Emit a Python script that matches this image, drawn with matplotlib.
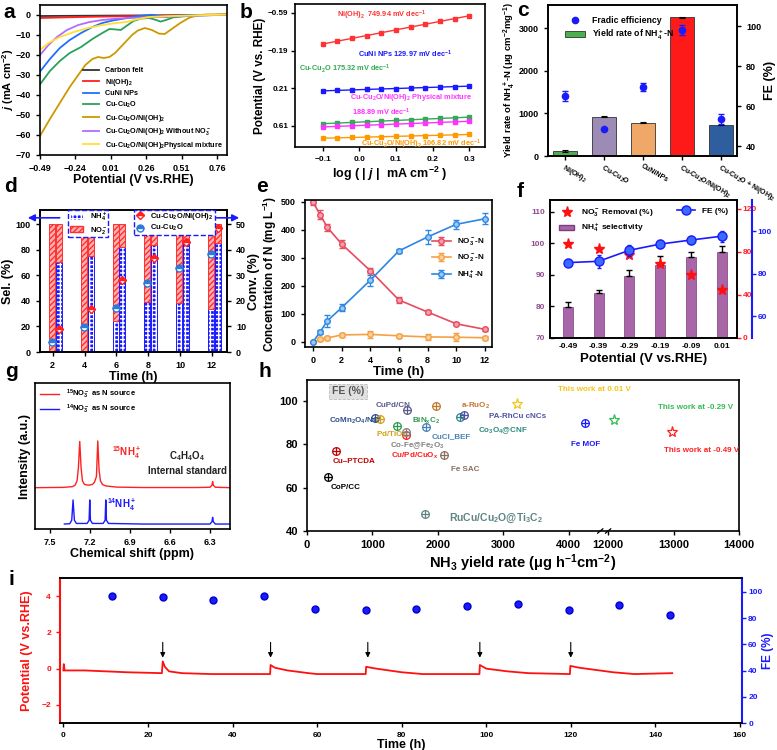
import numpy as np
import matplotlib
matplotlib.use("Agg")
import matplotlib.pyplot as plt
from matplotlib.patches import Patch
from matplotlib.lines import Line2D

plt.rcParams['font.family'] = ['Liberation Sans', 'DejaVu Sans']
plt.rcParams['font.weight'] = 'bold'
plt.rcParams['axes.labelweight'] = 'bold'
plt.rcParams['mathtext.fontset'] = 'custom'
plt.rcParams['mathtext.rm'] = 'Liberation Sans:bold'
plt.rcParams['mathtext.it'] = 'Liberation Sans:bold:italic'
plt.rcParams['mathtext.bf'] = 'Liberation Sans:bold'
plt.rcParams['mathtext.default'] = 'rm'
plt.rcParams['axes.linewidth'] = 1.2
plt.rcParams['xtick.major.width'] = 1.0
plt.rcParams['ytick.major.width'] = 1.0
plt.rcParams['xtick.major.size'] = 3
plt.rcParams['ytick.major.size'] = 3

# ---- a : LSV ----
v_gold = [-0.49, -0.42, -0.35, -0.28, -0.22, -0.17, -0.12, -0.08, -0.04, 0.0, 0.04, 0.10, 0.16, 0.20, 0.25, 0.30, 0.35, 0.39, 0.44, 0.50, 0.56, 0.62, 0.68, 0.83]
j_gold = [-60.5, -52, -44, -36, -30, -25, -22, -21, -21.5, -21, -19, -14.5, -10, -7.8, -6.5, -7.5, -9.3, -9.5, -7, -4, -1.5, -0.2, 0.2, 0.3]
v_green = [-0.49, -0.42, -0.35, -0.28, -0.20, -0.12, -0.05, 0.0, 0.04, 0.08, 0.12, 0.17, 0.22, 0.28, 0.33, 0.36, 0.40, 0.45, 0.55, 0.83]
j_green = [-34.7, -28, -23, -19, -16, -12, -9, -7, -7.2, -7.5, -5.5, -3, -1.8, -1.5, -2.5, -3.3, -2.5, -1.2, -0.5, 0.2]
v_cuni = [-0.49, -0.42, -0.35, -0.28, -0.20, -0.12, -0.05, 0.02, 0.10, 0.20, 0.30, 0.35, 0.40, 0.45, 0.55, 0.83]
j_cuni = [-28.3, -22, -16.5, -12.5, -9, -6, -4, -2.8, -1.8, -0.6, 0.1, -0.5, -1, -0.4, 0, 0.2]
v_purple = [-0.49, -0.43, -0.37, -0.30, -0.22, -0.14, -0.05, 0.05, 0.15, 0.25, 0.35, 0.45, 0.60, 0.83]
j_purple = [-20, -15, -11, -7.5, -5, -3.5, -2.5, -1.8, -1.5, -1.2, -1, -0.7, -0.3, 0.1]
v_yellow = [-0.49, -0.43, -0.35, -0.25, -0.15, -0.05, 0.05, 0.12, 0.20, 0.28, 0.40, 0.55, 0.70, 0.83]
j_yellow = [-17.5, -14, -11, -8.5, -6.5, -5, -4, -3.5, -2, -1, -0.6, -0.3, 0, 0.2]
v_nioh = [-0.49, -0.20, 0.10, 0.40, 0.70, 0.83]
j_nioh = [-1.5, -1.0, -0.6, -0.3, 0.0, 0.2]
v_felt = [-0.49, 0.0, 0.5, 0.83]
j_felt = [-0.5, -0.3, -0.1, 0.1]

# ---- b : Tafel ----
logj = [-0.10, -0.06, -0.02, 0.02, 0.06, 0.10, 0.14, 0.18, 0.22, 0.26, 0.30]
taf_nioh = [-0.26, -0.29, -0.32, -0.35, -0.38, -0.41, -0.44, -0.47, -0.50, -0.53, -0.56]
taf_cuni = [0.237, 0.232, 0.227, 0.222, 0.217, 0.212, 0.207, 0.202, 0.197, 0.192, 0.187]
taf_cu = [0.586, 0.579, 0.572, 0.565, 0.558, 0.551, 0.544, 0.537, 0.530, 0.523, 0.516]
taf_mix = [0.620, 0.614, 0.608, 0.602, 0.596, 0.590, 0.584, 0.578, 0.572, 0.566, 0.560]
taf_comp = [0.740, 0.736, 0.732, 0.728, 0.724, 0.720, 0.716, 0.712, 0.708, 0.704, 0.700]

# ---- c : yield / FE ----
c_cats = ['Ni(OH)$_2$', 'Cu-Cu$_2$O', 'CuNiNPs', 'Cu-Cu$_2$O/Ni(OH)$_2$', 'Cu-Cu$_2$O + Ni(OH)$_2$']
c_yield = [115, 925, 785, 3265, 720]
c_yield_err = [15, 10, 12, 10, 0]
c_fe = [65, 48.5, 69.5, 98, 53.5]
c_fe_err = [2.5, 0, 1.8, 2.5, 2.5]

# ---- d : selectivity / conversion ----
d_time = [2, 4, 6, 8, 10, 12]
d_sel_cu = [0, 0, 24, 39, 38, 34]
d_sel_comp = [70, 75, 82, 84, 85, 85]
d_conv_cu = [3.9, 9.8, 17.2, 27, 32.8, 38.3]
d_conv_comp = [9, 16.8, 28, 36.7, 43, 48.5]

# ---- e : concentration ----
e_time = [0, 0.5, 1, 2, 4, 6, 8, 10, 12]
e_no3 = [500, 455, 410, 350, 255, 150, 107, 65, 45]
e_no3_err = [10, 15, 12, 15, 8, 10, 6, 6, 6]
e_no2 = [0, 10, 14, 25, 27, 22, 18, 17, 15]
e_no2_err = [0, 5, 6, 8, 12, 8, 12, 14, 8]
e_nh4 = [0, 35, 75, 122, 220, 325, 375, 420, 440]
e_nh4_err = [0, 8, 20, 12, 20, 8, 25, 15, 20]

# ---- f : potential dependence ----
f_pot = ['-0.49', '-0.39', '-0.29', '-0.19', '-0.09', '0.01']
f_sel = [79.8, 84.1, 89.6, 93.2, 95.5, 97.2]
f_sel_err = [1.6, 1.0, 1.8, 2.8, 1.8, 1.8]
f_removal = [87.8, 83.2, 76.9, 69.2, 58.9, 44.9]
f_fe = [85.2, 85.8, 91.0, 93.9, 95.8, 97.6]
f_fe_err = [1.5, 3.0, 2.5, 2.0, 1.8, 2.5]

# ---- g : NMR ----
red_ppm = [7.61, 7.40, 7.33, 7.31, 7.295, 7.285, 7.275, 7.265, 7.255, 7.24, 7.21, 7.18, 7.165, 7.15, 7.14, 7.13, 7.12, 7.105, 7.08, 7.0, 6.8, 6.40, 6.30, 6.285, 6.28, 6.275, 6.26, 6.15]
red_int = [0.283, 0.285, 0.29, 0.30, 0.33, 0.42, 0.60, 0.42, 0.33, 0.305, 0.30, 0.305, 0.32, 0.36, 0.603, 0.40, 0.33, 0.305, 0.295, 0.287, 0.284, 0.284, 0.286, 0.30, 0.325, 0.30, 0.286, 0.283]
blue_ppm = [7.39, 7.35, 7.335, 7.325, 7.315, 7.30, 7.22, 7.205, 7.20, 7.195, 7.18, 7.10, 7.085, 7.08, 7.075, 7.06, 6.8, 6.30, 6.285, 6.28, 6.275, 6.26, 6.15]
blue_int = [0.034, 0.036, 0.06, 0.199, 0.06, 0.038, 0.038, 0.06, 0.199, 0.06, 0.038, 0.038, 0.06, 0.199, 0.06, 0.038, 0.034, 0.034, 0.05, 0.08, 0.05, 0.034, 0.034]

# ---- h : comparison ----
h_names = ['CoP/CC', 'Cu–PTCDA', 'Cu/Pd/CuO$_x$', 'Fe SAC', 'RuCu/Cu$_2$O@Ti$_3$C$_2$', 'Co-Fe@Fe$_2$O$_3$',
           'CoMn$_2$O$_4$/NC', 'Pd/TiO$_2$', 'CuPd/CN', 'BiN$_x$C$_2$', 'CuCl_BEF', 'a-RuO$_2$',
           'Co$_3$O$_4$@CNF', 'PA-RhCu cNCs', 'Fe MOF']
h_yield = [315, 442, 1520, 2099, 1799, 1509, 1037, 1113, 1535, 1382, 1825, 1966, 2332, 2398, 4240]
h_fe = [64.8, 76.9, 84.2, 75.0, 48.0, 85.6, 92.3, 92.0, 96.1, 88.7, 88.1, 97.7, 92.7, 93.8, 90.0]
h_colors = ['black', '#c00000', '#ff1a1a', '#8b6f5e', '#5f8585', '#808080', '#2f4f8f', '#d4a017',
            '#5a5a8a', '#2e9a4e', '#4682b4', '#c07830', '#2a8a80', '#5050a8', '#1a1aff']
work_labels = ['This work at 0.01 V', 'This work at -0.29 V', 'This work at -0.49 V']
work_yield = [3212, 12095, 12974]
work_fe = [98.5, 91.5, 85.6]
work_colors = ['#f5c518', '#33bb55', '#ff2020']

# ---- i : stability ----
i_fe_time = [11.5, 23.5, 35.5, 47.5, 59.5, 71.5, 83.5, 95.5, 107.5, 119.5, 131.5, 143.5]
i_fe = [97, 96, 94, 97, 87, 86, 87, 89, 91, 86, 90, 82]
i_time = [0, 0.1, 0.3, 5, 10, 15, 23.3, 23.5, 24, 25, 28, 35, 48.9, 49, 50, 53, 58, 60, 71.5, 71.6, 74, 80, 85,
          98.4, 98.5, 100, 105, 110, 119.8, 119.9, 122, 130, 135, 144]
i_pot = [-0.1, 0.25, -0.1, -0.1, -0.15, -0.2, -0.25, 0.4, 0.1, -0.15, -0.25, -0.3, -0.3, 0.2, 0.05, -0.1, -0.25, -0.3,
         -0.3, 0.1, 0.0, -0.2, -0.3, -0.3, 0.2, 0.0, -0.15, -0.25, -0.3, 0.15, 0.05, -0.2, -0.3, -0.25]
i_arrows = [23.5, 49, 72, 98.5, 120]

W, H = 777, 750


def box(l, t, r, b):
    return [l / W, 1 - b / H, (r - l) / W, (b - t) / H]


fig = plt.figure(figsize=(7.77, 7.5), dpi=100)
tick_fs = 6.5
lab_fs = 9

for letter, px, py in [('a', 3, 18), ('b', 240, 18), ('c', 517, 16), ('d', 4, 192), ('e', 256, 192),
                       ('f', 517, 197), ('g', 5, 377), ('h', 259, 377), ('i', 8, 585)]:
    fig.text(px / W, 1 - py / H, letter, fontsize=15, fontweight='bold')

# ---------------- a ----------------
ax_a = fig.add_axes(box(40, 5, 227, 155))
ax_a.plot(v_felt, j_felt, color='#333333', lw=1.3, label='Carbon felt')
ax_a.plot(v_nioh, j_nioh, color='#ff2020', lw=1.3, label='Ni(OH)$_2$')
ax_a.plot(v_cuni, j_cuni, color='#1f6fff', lw=1.3, label='CuNi NPs')
ax_a.plot(v_green, j_green, color='#2ca05a', lw=1.3, label='Cu-Cu$_2$O')
ax_a.plot(v_gold, j_gold, color='#cc9900', lw=1.3, label='Cu-Cu$_2$O/Ni(OH)$_2$')
ax_a.plot(v_purple, j_purple, color='#b36bff', lw=1.3, label='Cu-Cu$_2$O/Ni(OH)$_2$ Without NO$_3^-$')
ax_a.plot(v_yellow, j_yellow, color='#ffe033', lw=1.3, label='Cu-Cu$_2$O/Ni(OH)$_2$Physical mixture')
ax_a.set_xlim(-0.49, 0.83)
ax_a.set_ylim(-70, 5)
ax_a.set_xticks([-0.49, -0.24, 0.01, 0.26, 0.51, 0.76])
ax_a.set_yticks(np.arange(-70, 1, 10))
ax_a.tick_params(labelsize=tick_fs)
ax_a.set_xlabel('Potential (V vs.RHE)', fontsize=lab_fs, labelpad=1)
ax_a.set_ylabel('$\\mathit{j}$ (mA cm$^{-2}$)', fontsize=lab_fs - 1, labelpad=0)
ax_a.legend(loc='lower right', fontsize=5.2, frameon=False, handlelength=2.2, labelspacing=0.35,
            borderaxespad=0.2)

# ---------------- b ----------------
ax_b = fig.add_axes(box(295, 4, 485, 147))
for vals, col in [(taf_nioh, '#ff3333'), (taf_cuni, '#1a1aff'), (taf_cu, '#33aa55'),
                  (taf_mix, '#ff33ff'), (taf_comp, '#ff9900')]:
    ax_b.plot(logj, vals, color=col, lw=1.0, marker='s', ms=2.2)
ax_b.set_xlim(-0.175, 0.343)
ax_b.set_ylim(0.833, -0.685)
ax_b.set_yticks([-0.59, -0.19, 0.21, 0.61])
ax_b.set_xticks([-0.1, 0.0, 0.1, 0.2, 0.3])
ax_b.tick_params(axis='x', labelsize=6)
ax_b.tick_params(axis='y', labelsize=5.8, pad=2)
ax_b.set_xlabel('log ( | $\\mathit{j}$ |  mA cm$^{-2}$ )', fontsize=lab_fs, labelpad=1)
ax_b.set_ylabel('Potential (V vs. RHE)', fontsize=lab_fs - 0.5, labelpad=1)
bfs = 5.3
ax_b.text(0.06, -0.56, 'Ni(OH)$_2$  749.94 mV dec$^{-1}$', color='#ff3333', fontsize=bfs, ha='center', va='center')
ax_b.text(0.125, -0.155, 'CuNi NPs 129.97 mV dec$^{-1}$', color='#1a1aff', fontsize=bfs, ha='center', va='center')
ax_b.text(-0.04, 0.0, 'Cu-Cu$_2$O 175.32 mV dec$^{-1}$', color='#33aa55', fontsize=bfs, ha='center', va='center')
ax_b.text(0.14, 0.31, 'Cu-Cu$_2$O/Ni(OH)$_2$ Physical mixture', color='#ff33ff', fontsize=bfs, ha='center', va='center')
ax_b.text(0.06, 0.46, '188.89 mV dec$^{-1}$', color='#ff33ff', fontsize=bfs, ha='center', va='center')
ax_b.text(0.17, 0.80, 'Cu-Cu$_2$O/Ni(OH)$_2$ 106.82 mV dec$^{-1}$', color='#ff9900', fontsize=bfs, ha='center', va='center')

# ---------------- c ----------------
ax_c = fig.add_axes(box(548, 5, 737, 156))
c_cols = ['#4caf50', '#9b8bb5', '#f0a868', '#ff1a1a', '#2e5e9e']
xc = np.arange(len(c_cats))
ax_c.bar(xc, c_yield, width=0.6, color=c_cols, edgecolor='#333333', lw=0.6,
         yerr=c_yield_err, capsize=2, error_kw=dict(lw=0.8, capthick=0.8))
ax_c.set_xlim(-0.44, 4.41)
ax_c.set_ylim(0, 3550)
ax_c.set_yticks([0, 1000, 2000, 3000])
ax_c.set_xticks(xc)
ax_c.set_xticklabels(c_cats, rotation=-30, ha='left', rotation_mode='anchor', fontsize=5.0)
ax_c.tick_params(axis='y', labelsize=tick_fs)
ax_c.tick_params(axis='x', pad=2)
ax_c.set_ylabel('Yield rate of NH$_4^+$-N (μg cm$^{-2}$mg$^{-1}$)', fontsize=6.8, labelpad=1)
ax_c2 = ax_c.twinx()
ax_c2.errorbar(xc, c_fe, yerr=c_fe_err, fmt='o', color='#1a1aff', ms=4.5, capsize=2, lw=0.8)
ax_c2.set_ylim(35, 110.5)
ax_c2.set_yticks([40, 60, 80, 100])
ax_c2.tick_params(labelsize=tick_fs)
ax_c2.set_ylabel('FE (%)', fontsize=lab_fs, labelpad=2)
ax_c.legend([Line2D([], [], marker='o', ls='none', color='#1a1aff', ms=4.5),
             Patch(facecolor='#4caf50', edgecolor='#333333', lw=0.6)],
            ['Fradic efficiency', 'Yield rate of NH$_4^+$-N'], loc='upper left', bbox_to_anchor=(0.05, 0.98),
            fontsize=6.3, frameon=False, handlelength=2.2, labelspacing=0.3)

# ---------------- d ----------------
ax_d = fig.add_axes(box(40, 210, 227, 352))
td = np.array(d_time)
off_l, off_r, bw = -0.05, 0.38, 0.38
for off, sel in [(off_l, d_sel_cu), (off_r, d_sel_comp)]:
    sel = np.array(sel)
    ax_d.bar(td + off, sel, width=bw, color='#1a1aff', edgecolor='white', hatch='++++', lw=0)
    ax_d.bar(td + off, sel, width=bw, fill=False, edgecolor='#1a1aff', lw=0.7)
    ax_d.bar(td + off, 100 - sel, bottom=sel, width=bw, color='#ffb0b0', edgecolor='#ff3030', hatch='//////', lw=0.7)
ax_d.set_xlim(1.2, 12.95)
ax_d.set_ylim(0, 111)
ax_d.set_xticks(d_time)
ax_d.set_yticks([0, 20, 40, 60, 80, 100])
ax_d.tick_params(labelsize=tick_fs)
ax_d.set_xlabel('Time (h)', fontsize=lab_fs, labelpad=1)
ax_d.set_ylabel('Sel. (%)', fontsize=lab_fs, labelpad=1)
ax_d2 = ax_d.twinx()
ax_d2.plot(td + off_r, d_conv_comp, ls='none', marker='D', ms=4.5, fillstyle='top', color='#ff2020',
           markerfacecoloralt='white', mec='#ff2020')
ax_d2.plot(td + off_l, d_conv_cu, ls='none', marker='o', ms=5, fillstyle='top', color='#2b7bd9',
           markerfacecoloralt='white', mec='#2b7bd9')
ax_d2.set_ylim(0, 55.5)
ax_d2.set_yticks([0, 10, 20, 30, 40, 50])
ax_d2.tick_params(labelsize=tick_fs)
ax_d2.set_ylabel('Conv. (%)', fontsize=lab_fs, labelpad=1)
leg1 = ax_d2.legend([Patch(facecolor='#1a1aff', edgecolor='white', hatch='++++'),
                     Patch(facecolor='#ffb0b0', edgecolor='#ff3030', hatch='//////')],
                    ['NH$_4^+$', 'NO$_2^-$'], loc='upper left', bbox_to_anchor=(0.13, 1.03), fontsize=5.5,
                    handlelength=1.8, handleheight=0.8, labelspacing=0.15, borderpad=0.2,
                    fancybox=False, edgecolor='#1a1aff', framealpha=1)
leg1.get_frame().set_linestyle('--')
ax_d2.add_artist(leg1)
leg2 = ax_d2.legend([Line2D([], [], ls='none', marker='D', ms=4.5, fillstyle='top', color='#ff2020',
                            markerfacecoloralt='white'),
                     Line2D([], [], ls='none', marker='o', ms=5, fillstyle='top', color='#2b7bd9',
                            markerfacecoloralt='white')],
                    ['Cu-Cu$_2$O/Ni(OH)$_2$', 'Cu-Cu$_2$O'], loc='upper left', bbox_to_anchor=(0.48, 1.03),
                    fontsize=5.5, handlelength=1.2, labelspacing=0.15, borderpad=0.2,
                    fancybox=False, edgecolor='#1a1aff', framealpha=1)
leg2.get_frame().set_linestyle('--')
ax_d2.annotate('', xy=(-0.08, 0.945), xytext=(0.12, 0.945), xycoords='axes fraction',
               arrowprops=dict(arrowstyle='-|>', color='#1a1aff', lw=1.2), annotation_clip=False)
ax_d2.annotate('', xy=(1.08, 0.945), xytext=(0.93, 0.945), xycoords='axes fraction',
               arrowprops=dict(arrowstyle='-|>', color='#1a1aff', lw=1.2), annotation_clip=False)

# ---------------- e ----------------
ax_e = fig.add_axes(box(305, 200, 492, 347))
for vals, err, col, light, lab in [(e_no3, e_no3_err, '#e84a5f', '#f5a0aa', 'NO$_3^-$-N'),
                                   (e_no2, e_no2_err, '#f5a142', '#fad0a0', 'NO$_2^-$-N'),
                                   (e_nh4, e_nh4_err, '#2b87e3', '#9cc8f3', 'NH$_4^+$-N')]:
    ax_e.errorbar(e_time, vals, yerr=err, color=col, marker='o', ms=4, mfc=light, mec=col, lw=1.2,
                  capsize=2, elinewidth=0.9, label=lab)
ax_e.set_xlim(-0.55, 12.5)
ax_e.set_ylim(-18, 507)
ax_e.set_xticks([0, 2, 4, 6, 8, 10, 12])
ax_e.set_yticks([0, 100, 200, 300, 400, 500])
ax_e.tick_params(labelsize=tick_fs)
ax_e.set_xlabel('Time (h)', fontsize=lab_fs + 0.5, labelpad=1)
ax_e.set_ylabel('Concentration of N (mg L$^{-1}$)', fontsize=lab_fs - 0.5, labelpad=1)
ax_e.legend(loc='center right', bbox_to_anchor=(1.0, 0.6), fontsize=5.8, frameon=False, handlelength=2.4,
            labelspacing=0.5)

# ---------------- f ----------------
ax_f = fig.add_axes(box(550, 200, 737, 338))
xf = np.arange(len(f_pot))
ax_f.bar(xf, f_sel, width=0.33, color='#a865a8', edgecolor='#7a3f7a', lw=0.5, bottom=0)
ax_f.errorbar(xf, f_sel, yerr=[np.zeros(len(f_sel)), f_sel_err], fmt='none', ecolor='black', capsize=2,
              elinewidth=1.0, capthick=1.0)
ax_f.set_xlim(-0.58, 5.5)
ax_f.set_ylim(70, 113.7)
ax_f.set_yticks([70, 80, 90, 100, 110])
ax_f.set_xticks(xf)
ax_f.set_xticklabels(f_pot)
ax_f.tick_params(axis='y', labelsize=6, labelcolor='#8e4f8e', direction='in')
ax_f.tick_params(axis='x', labelsize=6, length=0)
ax_f.set_xlabel('Potential (V vs.RHE)', fontsize=lab_fs + 0.5, labelpad=2)
ax_f2 = ax_f.twinx()
ax_f2.plot(xf, f_removal, ls='none', marker='*', ms=8, color='#ff1010')
ax_f2.set_ylim(0, 128.3)
ax_f2.set_yticks([0, 40, 80, 120])
ax_f2.tick_params(labelsize=6, labelcolor='#ff2020', color='#ff2020', pad=1)
ax_f3 = ax_f.twinx()
ax_f3.spines['right'].set_position(('axes', 1.08))
ax_f3.spines['right'].set_color('#1a1aff')
ax_f3.spines['right'].set_linewidth(1.5)
ax_f3.errorbar(xf, f_fe, yerr=f_fe_err, color='#1a1aff', marker='o', ms=6.5, mfc='#3a6bff', mec='#1a1aff',
               lw=1.2, capsize=1.5, elinewidth=1.0)
ax_f3.set_ylim(49.8, 114.6)
ax_f3.set_yticks([60, 80, 100])
ax_f3.tick_params(labelsize=6, labelcolor='#1a1aff', color='#1a1aff', pad=1)
for s in ['top', 'left', 'bottom']:
    ax_f3.spines[s].set_visible(False)
ax_f.legend([Line2D([], [], ls='none', marker='*', ms=8, color='#ff1010'),
             Patch(facecolor='#a865a8', edgecolor='#7a3f7a')],
            ['NO$_3^-$ Removal (%)', 'NH$_4^+$ selectivity'], loc='upper left', bbox_to_anchor=(0.01, 1.0),
            fontsize=6, frameon=False, handlelength=1.8, labelspacing=0.3)
ax_f3.legend([Line2D([], [], color='#1a1aff', marker='o', ms=6.5, mfc='#3a6bff', lw=1.2)], ['FE (%)'],
             loc='upper right', bbox_to_anchor=(0.99, 1.0), fontsize=6, frameon=False, handlelength=2.2)

# ---------------- g ----------------
ax_g = fig.add_axes(box(35, 383, 230, 529))
ax_g.plot(red_ppm, red_int, color='#ff2020', lw=1.0, label='$^{15}$NO$_3^-$ as N source')
ax_g.plot(blue_ppm, blue_int, color='#1a1aff', lw=1.0, label='$^{14}$NO$_3^-$ as N source')
ax_g.set_xlim(7.61, 6.15)
ax_g.set_ylim(0, 1)
ax_g.set_xticks([7.5, 7.2, 6.9, 6.6, 6.3])
ax_g.set_yticks([])
ax_g.tick_params(labelsize=tick_fs)
ax_g.set_xlabel('Chemical shift (ppm)', fontsize=lab_fs, labelpad=1)
ax_g.set_ylabel('Intensity (a.u.)', fontsize=lab_fs, labelpad=3)
ax_g.legend(loc='upper left', fontsize=5.5, frameon=False, handlelength=2.6, labelspacing=0.3,
            borderaxespad=0.2)
ax_g.text(7.03, 0.52, '$^{15}$NH$_4^+$', color='#ff2020', fontsize=7, va='center')
ax_g.text(7.07, 0.17, '$^{14}$NH$_4^+$', color='#1a1aff', fontsize=7, va='center')
ax_g.text(6.47, 0.50, 'C$_4$H$_4$O$_4$', color='#222222', fontsize=7, ha='center', va='center')
ax_g.text(6.47, 0.40, 'Internal standard', color='#222222', fontsize=7, ha='center', va='center')


# ---------------- h ----------------
def hx(v):
    v = np.asarray(v, dtype=float)
    return np.where(v < 8000, v, v - 7400)


ax_h = fig.add_axes(box(307, 380, 739, 531))
hxs = hx(h_yield)
for x, y, c in zip(hxs, h_fe, h_colors):
    ax_h.plot(x, y, marker='o', ms=5.5, mfc='none', mec=c, mew=0.9, ls='none')
    ax_h.plot(x, y, marker='+', ms=5.5, color=c, mew=0.9, ls='none')
for x, y, c in zip(hx(work_yield), work_fe, work_colors):
    ax_h.plot(x, y, marker='*', ms=8, mfc='none', mec=c, mew=0.9, ls='none')
h_lab_pos = [(366, 60.2), (396, 72.1), (1280, 74.9), (2195, 68.6), (2165, 45.8), (1265, 79.5),
             (335, 90.7), (1052, 84.5), (1052, 98.1), (1600, 90.7), (1905, 83.6), (2348, 98.0),
             (2607, 86.4), (2774, 93.0), (4040, 79.9)]
for (tx, ty), name, c in zip(h_lab_pos, h_names, h_colors):
    fs = 7.5 if 'RuCu' in name else 5.8
    ax_h.text(tx, ty, name, color=c, fontsize=fs, ha='left', va='center')
for (tx, ty), name, c in zip([(3841, 105.4), (5366, 97.0), (5460, 77.1)], work_labels, work_colors):
    ax_h.text(tx, ty, name, color=c, fontsize=5.8, ha='left', va='center')
ax_h.text(625, 104.5, 'FE (%)', color='#555555', fontsize=7.5, ha='center', va='center',
          bbox=dict(boxstyle='square,pad=0.25', facecolor='#e0e0e0', edgecolor='#bbbbbb', ls='--', lw=0.6))
h_ticks = [0, 1000, 2000, 3000, 4000, 12000, 13000, 14000]
ax_h.set_xticks(hx(h_ticks))
ax_h.set_xticklabels([str(t) for t in h_ticks])
ax_h.set_xlim(0, 6600)
ax_h.set_ylim(40, 109.8)
ax_h.set_yticks([40, 60, 80, 100])
ax_h.tick_params(labelsize=8)
ax_h.set_xlabel('NH$_3$ yield rate (μg h$^{-1}$cm$^{-2}$)', fontsize=10.5, labelpad=2)
for dx in [4480, 4600]:
    ax_h.plot([dx - 40, dx + 40], [39.0, 41.0], color='black', lw=0.9, clip_on=False)

# ---------------- i ----------------
ax_i = fig.add_axes(box(60, 578, 742, 723))
ax_i.plot(i_time, i_pot, color='#ff1010', lw=1.3)
for t in i_arrows:
    ax_i.annotate('', xy=(t, 0.45), xytext=(t, 1.6),
                  arrowprops=dict(arrowstyle='-|>', color='black', lw=0.8, mutation_scale=7))
ax_i.set_xlim(-0.8, 160.5)
ax_i.set_ylim(-3, 5)
ax_i.set_xticks(np.arange(0, 161, 20))
ax_i.set_yticks([-2, 0, 2, 4])
ax_i.tick_params(axis='x', labelsize=6)
ax_i.tick_params(axis='y', labelsize=6, labelcolor='#ff1010', color='#ff1010')
ax_i.spines['left'].set_color('#ff1010')
ax_i.spines['left'].set_linewidth(1.5)
ax_i.set_xlabel('Time (h)', fontsize=lab_fs, labelpad=0)
ax_i.set_ylabel('Potential (V vs.RHE)', fontsize=lab_fs, color='#ff1010', labelpad=6)
ax_i2 = ax_i.twinx()
ax_i2.plot(i_fe_time, i_fe, ls='none', marker='o', ms=5, color='#1a1aff', mec='#0000cc')
ax_i2.set_ylim(0, 110.6)
ax_i2.set_yticks([0, 20, 40, 60, 80, 100])
ax_i2.tick_params(labelsize=6, labelcolor='#1a1aff', color='#1a1aff', pad=1.5)
ax_i2.spines['right'].set_color('#1a1aff')
ax_i2.spines['right'].set_linewidth(1.5)
ax_i2.spines['left'].set_visible(False)
ax_i2.set_ylabel('FE (%)', fontsize=lab_fs - 0.5, color='#1a1aff', labelpad=0)

fig.savefig('out.png', dpi=100)
